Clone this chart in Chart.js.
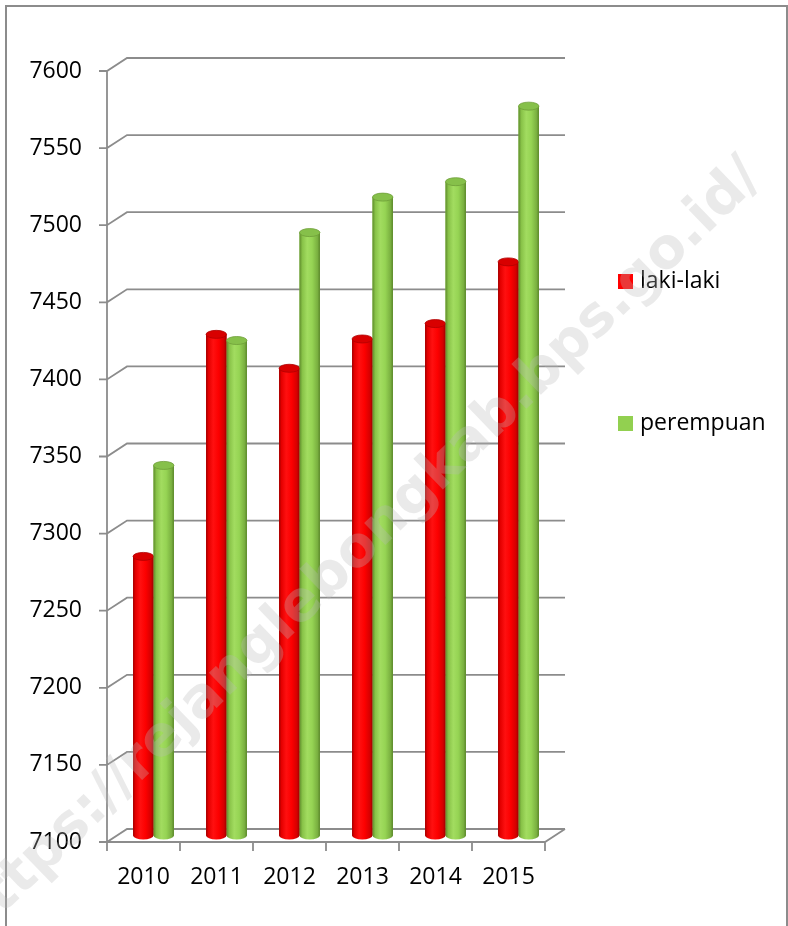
<!DOCTYPE html>
<html>
<head>
<meta charset="utf-8">
<script src="https://cdn.jsdelivr.net/npm/chart.js@4.4.0/dist/chart.umd.min.js"></script>
<style>
    html, body { margin: 0; padding: 0; background: #fff; }
    #wrap { position: relative; width: 788px; height: 926px; overflow: hidden; }
    #frame { position: absolute; left: 5px; top: 5px; width: 779px; height: 1000px; border: 2px solid #8c8c8c; }
    #chart { position: absolute; left: 0; top: 0; }
    .swatch { position: absolute; width: 15px; height: 15px; }
    .leg-text { position: absolute; font: 23px "Open Sans", sans-serif; line-height: 23px; color: #000; white-space: nowrap; }
    #watermark {
        position: absolute; width: 1300px; text-align: right;
        font: bold 56px "DejaVu Sans", sans-serif; line-height: 56px;
        color: rgba(185, 185, 185, 0.3); white-space: nowrap;
        transform-origin: 100% 100%; transform: rotate(-44deg);
        pointer-events: none;
    }
</style>
</head>
<body>
<div id="wrap">
    <div id="frame"></div>
    <canvas id="chart" width="788" height="926"></canvas>
    <div class="swatch" style="left:618px; top:274px; background:#ff0000;"></div>
    <div class="leg-text" style="left:640px; top:268px;">laki-laki</div>
    <div class="swatch" style="left:618px; top:416px; background:#92d050;"></div>
    <div class="leg-text" style="left:640px; top:410px;">perempuan</div>
    <div id="watermark">https://rejanglebongkab.bps.go.id/</div>
</div>

<script>
const years = ["2010", "2011", "2012", "2013", "2014", "2015"];
const lakiLaki = [7281, 7425, 7403, 7422, 7432, 7472];
const perempuan = [7340, 7421, 7491, 7514, 7524, 7573];
const yMin = 7100;
const yMax = 7600;
const yStep = 50;

// depth offset of the fake 3d box (bars sit in the middle plane)
const DX = 10, DY = 6.5;
const gridColor = "#8c8c8c";

// watermark: put the end of the text near the top right
const wm = document.getElementById("watermark");
const wmAnchor = { x: 770, y: 186 };
wm.style.left = (wmAnchor.x - 1300) + "px";
wm.style.top = (wmAnchor.y - 56) + "px";

const shades = [
    {
        side: [[0, "#a00000"], [0.12, "#e40000"], [0.35, "#ff1010"], [0.62, "#fc0000"], [0.88, "#d40000"], [1, "#9c0000"]],
        top: "#d80000",
        topEdge: "#b00000"
    },
    {
        side: [[0, "#5f8c2c"], [0.14, "#88c248"], [0.38, "#a2dc60"], [0.62, "#96d454"], [0.88, "#7ab040"], [1, "#5a862a"]],
        top: "#86c04a",
        topEdge: "#6e9e38"
    }
];

const frame3d = {
    id: "frame3d",
    beforeDatasetsDraw(chart) {
        const { ctx, chartArea: a, scales: { x, y } } = chart;
        ctx.save();
        ctx.strokeStyle = gridColor;
        ctx.lineWidth = 1.8;
        ctx.beginPath();
        y.ticks.forEach(t => {
            const py = y.getPixelForValue(t.value);
            ctx.moveTo(a.left - DX - 8, py + DY);
            ctx.lineTo(a.left - DX, py + DY);
            ctx.lineTo(a.left + DX, py - DY);
            ctx.lineTo(a.right + DX, py - DY);
        });
        // front vertical axis + floor front edge
        ctx.moveTo(a.left - DX, a.top + DY);
        ctx.lineTo(a.left - DX, a.bottom + DY);
        ctx.lineTo(a.right - DX, a.bottom + DY);
        ctx.lineTo(a.right + DX, a.bottom - DY);
        // category tick marks on the floor edge
        const half = (x.getPixelForValue(1) - x.getPixelForValue(0)) / 2;
        for (let i = 0; i <= years.length; i++) {
            const px = x.getPixelForValue(i) - half - DX;
            ctx.moveTo(px, a.bottom + DY);
            ctx.lineTo(px, a.bottom + DY + 9);
        }
        ctx.stroke();
        ctx.restore();
    }
};

// repaint each bar as a shaded cylinder
const cylinders = {
    id: "cylinders",
    afterDatasetsDraw(chart) {
        const ctx = chart.ctx;
        chart.data.datasets.forEach((ds, di) => {
            const meta = chart.getDatasetMeta(di);
            const shade = shades[di];
            meta.data.forEach(bar => {
                const { x, y, base, width } = bar.getProps(["x", "y", "base", "width"], true);
                const l = x - width / 2, r = x + width / 2, ry = 4;
                const g = ctx.createLinearGradient(l, 0, r, 0);
                shade.side.forEach(([o, c]) => g.addColorStop(o, c));
                ctx.save();
                ctx.fillStyle = g;
                ctx.beginPath();
                ctx.moveTo(l, y);
                ctx.lineTo(l, base);
                ctx.ellipse(x, base, width / 2, ry, 0, Math.PI, 0, true);
                ctx.lineTo(r, y);
                ctx.closePath();
                ctx.fill();

                ctx.fillStyle = shade.top;
                ctx.strokeStyle = shade.topEdge;
                ctx.lineWidth = 0.8;
                ctx.beginPath();
                ctx.ellipse(x, y, width / 2, ry, 0, 0, Math.PI * 2);
                ctx.fill();
                ctx.stroke();
                ctx.restore();
            });
        });
    }
};

new Chart(document.getElementById("chart"), {
    type: "bar",
    data: {
        labels: years,
        datasets: [
            { label: "laki-laki", data: lakiLaki, backgroundColor: "#ff0000", base: yMin },
            { label: "perempuan", data: perempuan, backgroundColor: "#92d050", base: yMin }
        ]
    },
    options: {
        responsive: false,
        animation: false,
        layout: { padding: { top: 64.5, right: 233, bottom: 0, left: 0 } },
        datasets: { bar: { categoryPercentage: 0.56, barPercentage: 1 } },
        plugins: {
            legend: { display: false },
            tooltip: { enabled: false }
        },
        scales: {
            x: {
                grid: { display: false, drawTicks: false },
                border: { display: false },
                ticks: {
                    color: "#000",
                    font: { family: "Open Sans", size: 23 },
                    padding: 28,
                    labelOffset: -DX,
                    maxRotation: 0
                },
                afterFit(scale) { scale.height = 90.5; }
            },
            y: {
                min: yMin,
                max: yMax,
                grid: { display: false, drawTicks: false },
                border: { display: false },
                ticks: {
                    stepSize: yStep,
                    color: "#000",
                    font: { family: "Open Sans", size: 23 },
                    padding: 35,
                    labelOffset: DY,
                    callback: v => String(v)
                },
                afterFit(scale) { scale.width = 117; }
            }
        }
    },
    plugins: [frame3d, cylinders]
});
</script>
</body>
</html>
